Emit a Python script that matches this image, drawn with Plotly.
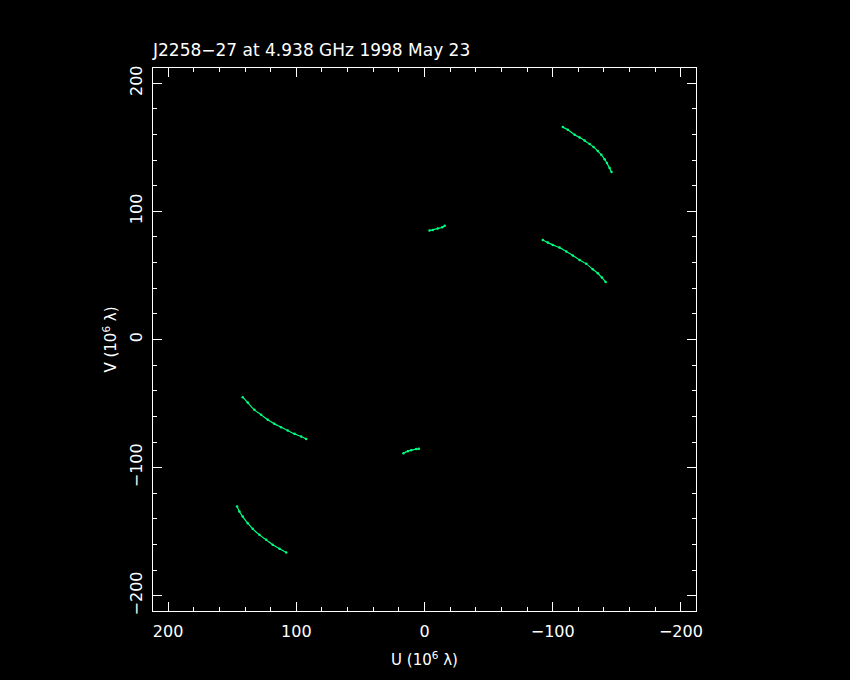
import plotly.graph_objects as go

# UV tracks (units: 10^6 wavelengths)
arc_a_u = [-107.9, -111.8, -117.1, -121.0, -124.9, -128.8, -131.9, -135.2, -137.9, -140.5, -142.3, -144.4, -145.9]
arc_a_v = [165.7, 163.6, 159.7, 157.6, 155.2, 152.6, 150.1, 147.0, 144.1, 140.7, 137.6, 133.7, 130.6]

arc_b_u = [-92.3, -96.2, -100.1, -105.3, -110.6, -115.7, -121.0, -126.2, -131.3, -135.2, -138.4, -141.3]
arc_b_v = [77.7, 75.6, 73.8, 71.7, 68.6, 65.5, 62.1, 59.0, 54.8, 51.7, 48.3, 44.9]

arc_c_u = [-3.9, -6.5, -10.4, -13.8, -15.8]
arc_c_v = [85.0, 85.5, 86.6, 87.6, 88.7]

arc_d_u = [146.2, 144.4, 141.8, 137.9, 134.0, 128.8, 123.5, 118.4, 113.1, 107.9]
arc_d_v = [-130.3, -134.2, -138.1, -143.3, -147.7, -152.4, -156.3, -160.2, -163.3, -166.2]

arc_e_u = [141.8, 137.9, 132.7, 127.4, 122.3, 117.1, 111.9, 106.7, 101.4, 96.2, 92.3]
arc_e_v = [-45.0, -49.2, -54.9, -58.8, -62.7, -65.8, -68.4, -71.0, -73.6, -75.7, -77.7]

arc_g_u = [16.4, 13.0, 10.4, 6.5, 4.4]
arc_g_v = [-88.7, -87.1, -86.3, -85.5, -85.3]

arcs = [(arc_a_u, arc_a_v), (arc_b_u, arc_b_v), (arc_c_u, arc_c_v),
        (arc_d_u, arc_d_v), (arc_e_u, arc_e_v), (arc_g_u, arc_g_v)]

tick_vals = [200, 100, 0, -100, -200]
tick_text = ["200", "100", "0", "\u2212100", "\u2212200"]

title_text = "J2258\u221227 at 4.938 GHz 1998 May 23"
x_title = "U (10<sup>6</sup> \u03bb)"
y_title = "V (10<sup>6</sup> \u03bb)"

GREEN = "#00ff80"
FONT = "DejaVu Sans"

fig = go.Figure()
for u, v in arcs:
    fig.add_trace(go.Scatter(x=u, y=v, mode="lines+markers",
                             line=dict(color=GREEN, width=1.2, shape="spline"),
                             marker=dict(color=GREEN, size=2.5),
                             showlegend=False, hoverinfo="skip"))

axis_common = dict(
    showline=True, linecolor="white", linewidth=1, mirror="allticks",
    ticks="inside", ticklen=9, tickwidth=1, tickcolor="white",
    showgrid=False, zeroline=False,
    tickvals=tick_vals, ticktext=tick_text,
    tickfont=dict(family=FONT, size=16, color="white"),
    minor=dict(ticks="inside", ticklen=4, tickwidth=1, tickcolor="white", dtick=20, tick0=0, showgrid=False),
)

fig.update_xaxes(range=[211.8, -211.8], title=dict(text=x_title, font=dict(family=FONT, size=15, color="white"), standoff=14),
                 ticklabelstandoff=6, **axis_common)
fig.update_yaxes(range=[-211.8, 211.8], tickangle=-90, title=dict(text=y_title, font=dict(family=FONT, size=15, color="white"), standoff=6),
                 ticklabelstandoff=4, **axis_common)

fig.add_annotation(text=title_text, xref="paper", yref="paper", x=0, y=1,
                   xanchor="left", yanchor="bottom", yshift=6, xshift=-3, showarrow=False,
                   font=dict(family=FONT, size=17, color="white"))

fig.update_layout(width=850, height=680, paper_bgcolor="black", plot_bgcolor="black",
                  margin=dict(l=153, r=154, t=68, b=69, autoexpand=False))

fig.write_html("out.html", config={"displayModeBar": False, "staticPlot": True},
               post_script="document.body.style.margin='0';document.body.style.background='black';document.body.style.overflow='hidden';")
